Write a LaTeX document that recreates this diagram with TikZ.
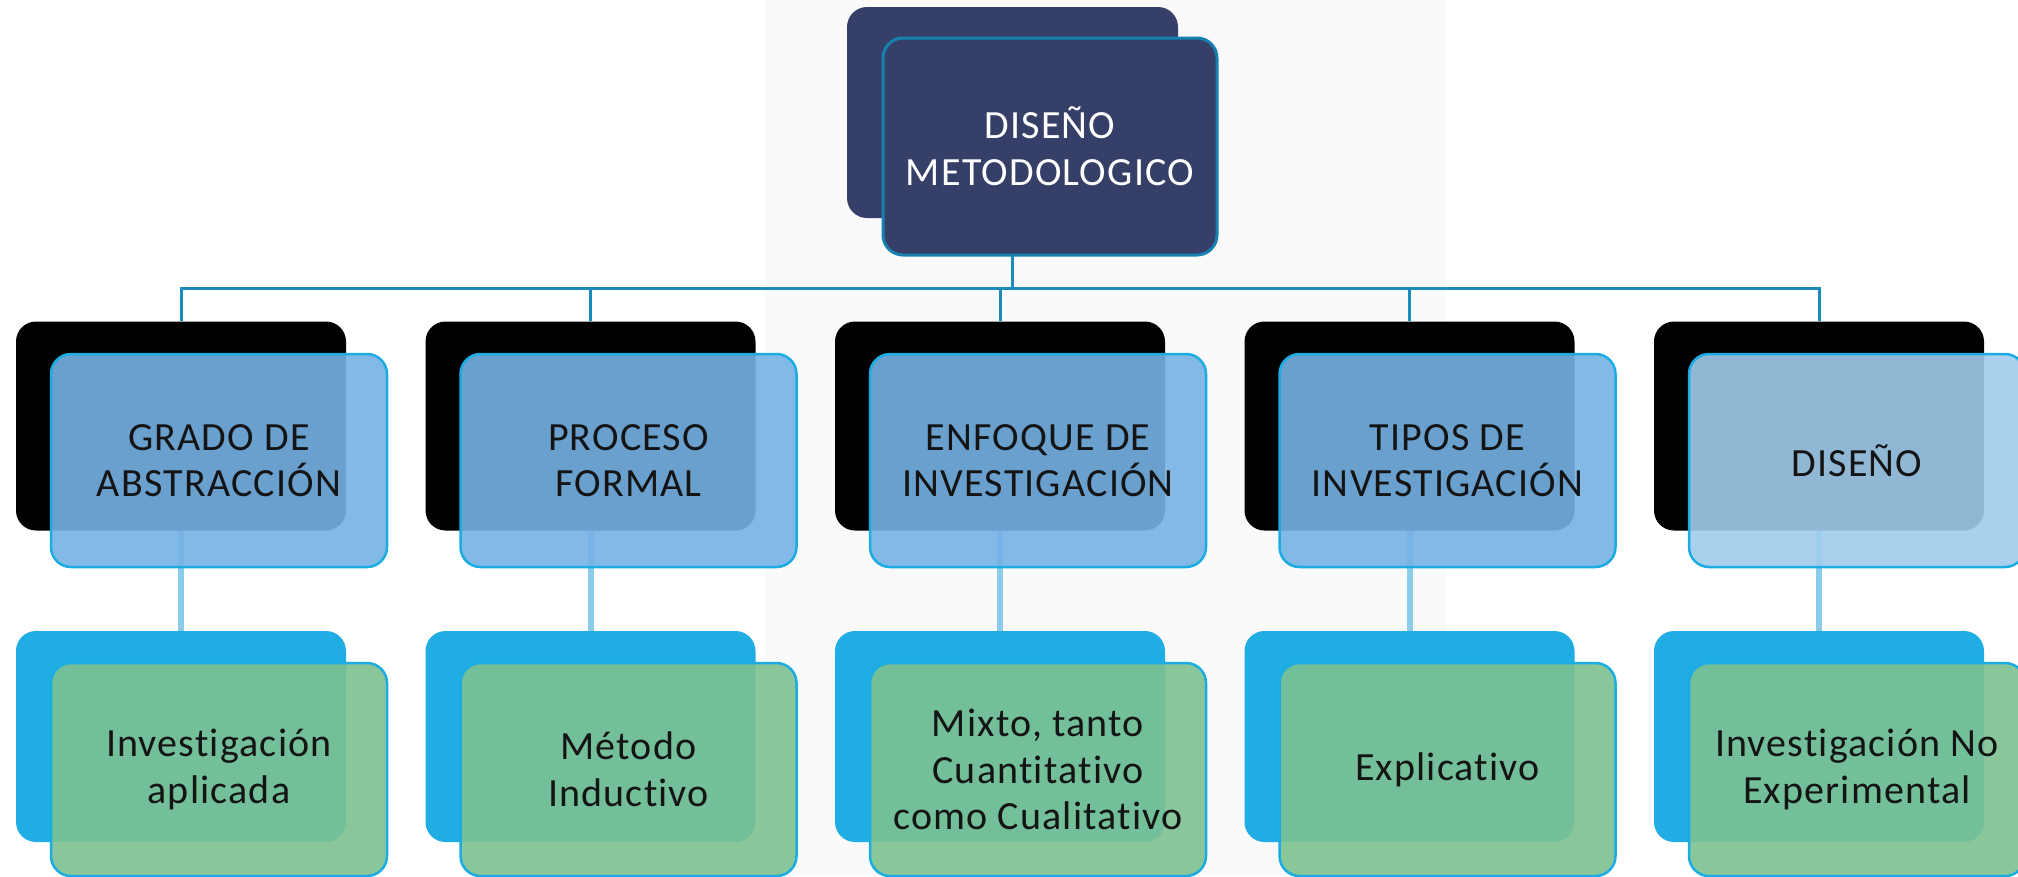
\documentclass[tikz,border=0pt]{standalone}
\usepackage{fontspec}
\setmainfont{Carlito}[LetterSpace=3, RawFeature={-liga;-clig}]
\definecolor{navy}{RGB}{53,63,104}
\definecolor{navyline}{RGB}{22,128,176}
\definecolor{cyanback}{RGB}{31,173,228}
\definecolor{frontline}{RGB}{26,172,227}
\definecolor{bluefill}{RGB}{117,178,229}
\definecolor{paleblue}{RGB}{160,204,237}
\definecolor{greenfill}{RGB}{125,194,145}
\definecolor{darkconn}{RGB}{26,139,186}
\definecolor{lightconn}{RGB}{138,204,233}
\definecolor{bggray}{RGB}{250,250,250}
\definecolor{txt}{RGB}{20,20,20}
\begin{document}
\begin{tikzpicture}[x=1pt,y=-1pt,
  box/.style={rectangle, rounded corners=20pt, inner sep=0pt, align=center,
    font=\fontsize{40}{46.7}\selectfont},
  backbox/.style={box, minimum width=330pt, minimum height=209pt},
  frontbox/.style={box, minimum width=336pt, minimum height=213pt,
    draw=frontline, line width=2.5pt, fill opacity=0.9, text opacity=1, text=txt},
  topback/.style={box, fill=navy, minimum width=331pt, minimum height=211pt},
  topfront/.style={box, fill=navy, draw=navyline, line width=3pt, text=white,
    minimum width=334pt, minimum height=217pt},
  darkline/.style={draw=darkconn, line width=3pt},
  lightline/.style={draw=lightconn, line width=6pt}]
\useasboundingbox (0,0) rectangle (2018,876);
\fill[white] (0,0) rectangle (2018,876);
\fill[bggray] (765,0) rectangle (1446,876);

% top back box and hub
\node[topback] (tb) at (1012.5,112.5) {};
\coordinate (hub) at (1012.5,288);
\draw[darkline] (tb.south) -- (hub);
% top front box (covers the upper part of the connector)
\node[topfront] (tf) at (1050,146.5) {DISEÑO\\METODOLOGICO};

% level 2 back boxes
\node[backbox, fill=black] (b1) at (181,426) {};
\node[backbox, fill=black] (b2) at (590.5,426) {};
\node[backbox, fill=black] (b3) at (1000,426) {};
\node[backbox, fill=black] (b4) at (1409.5,426) {};
\node[backbox, fill=black] (b5) at (1819,426) {};

% level 3 back boxes
\node[backbox, fill=cyanback, minimum height=211pt] (c1) at (181,736.5) {};
\node[backbox, fill=cyanback, minimum height=211pt] (c2) at (590.5,736.5) {};
\node[backbox, fill=cyanback, minimum height=211pt] (c3) at (1000,736.5) {};
\node[backbox, fill=cyanback, minimum height=211pt] (c4) at (1409.5,736.5) {};
\node[backbox, fill=cyanback, minimum height=211pt] (c5) at (1819,736.5) {};

% connectors
\draw[darkline] (b1.north) -- (b1.north |- hub) -- (b5.north |- hub) -- (b5.north);
\draw[darkline] (b2.north |- hub) -- (b2.north);
\draw[darkline] (b3.north |- hub) -- (b3.north);
\draw[darkline] (b4.north |- hub) -- (b4.north);
\foreach \i in {1,...,5}{
  \draw[lightline] (b\i.south) -- (c\i.north);
}

% level 2 front boxes
\node[frontbox, fill=bluefill] (f1) at (219,460.5) {GRADO DE\\ABSTRACCIÓN};
\node[frontbox, fill=bluefill] (f2) at (628.5,460.5) {PROCESO\\FORMAL};
\node[frontbox, fill=bluefill] (f3) at (1038,460.5) {ENFOQUE DE\\INVESTIGACIÓN};
\node[frontbox, fill=bluefill] (f4) at (1447.5,460.5) {TIPOS DE\\INVESTIGACIÓN};
\node[frontbox, fill=paleblue] (f5) at (1857,460.5) {DISEÑO};

% level 3 front boxes
\node[frontbox, fill=greenfill] (g1) at (219,769.5) {Investigación\\aplicada};
\node[frontbox, fill=greenfill] (g2) at (628.5,769.5) {Método\\Inductivo};
\node[frontbox, fill=greenfill] (g3) at (1038,769.5) {Mixto, tanto\\Cuantitativo\\como Cualitativo};
\node[frontbox, fill=greenfill] (g4) at (1447.5,769.5) {Explicativo};
\node[frontbox, fill=greenfill] (g5) at (1857,769.5) {Investigación No\\Experimental};
\end{tikzpicture}
\end{document}
